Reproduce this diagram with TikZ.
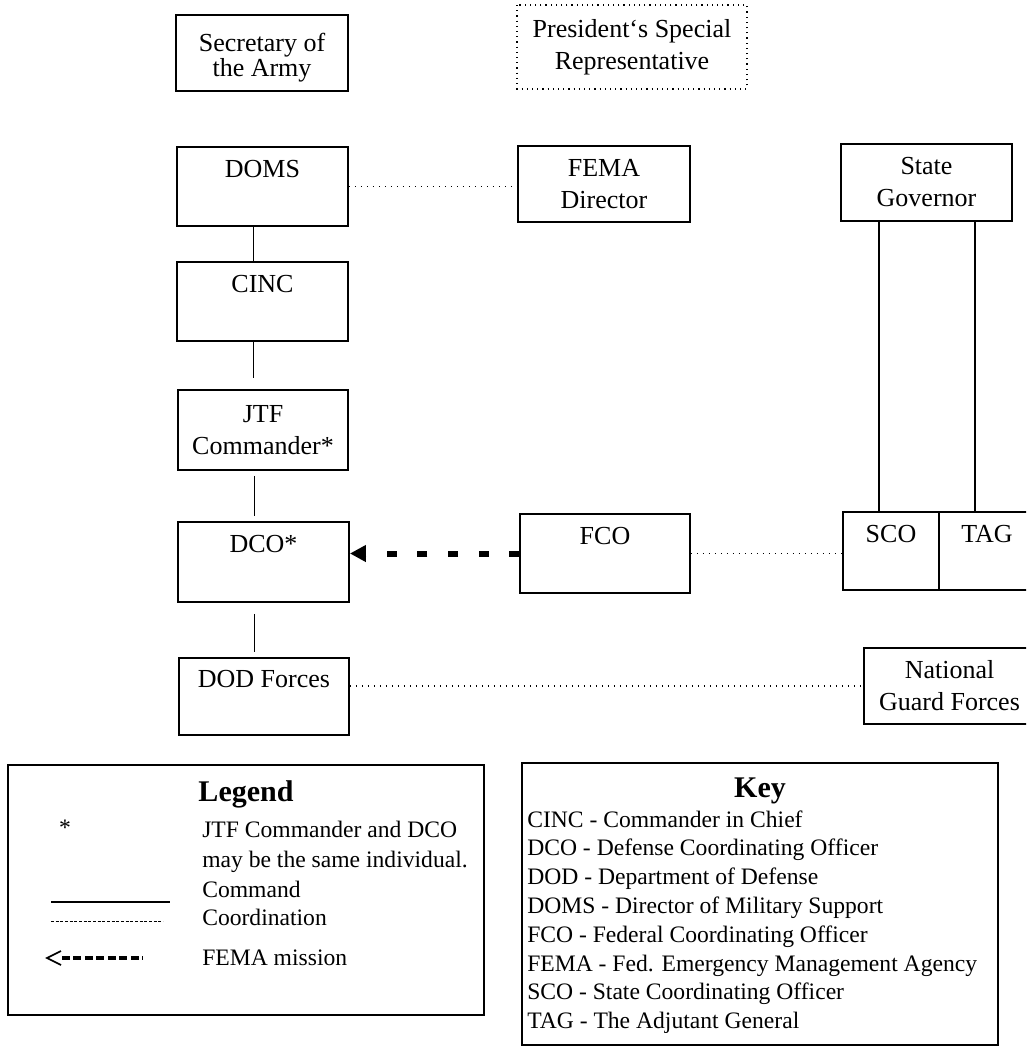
\documentclass[tikz,border=0pt]{standalone}
\usepackage{fontspec}
\setmainfont{Liberation Serif}
\usetikzlibrary{arrows.meta}
\newcommand{\boxfont}{\fontsize{19.5pt}{24pt}\selectfont}
\newcommand{\legfont}{\fontsize{17.7pt}{21.6pt}\selectfont}
\newcommand{\titfont}{\fontsize{22.5pt}{27pt}\selectfont\bfseries}
\begin{document}
\begin{tikzpicture}[x=0.75pt,y=-0.75pt,
  box/.style={draw, line width=1.4pt, minimum width=128.25pt, minimum height=58.5pt, inner sep=0pt, align=center, font=\boxfont},
  btext/.style={font=\boxfont, anchor=base, inner sep=0pt},
  cmd/.style={line width=1.1pt},
  coord/.style={line width=0.9pt, dash pattern=on 0.8pt off 3.7pt},
  ltext/.style={font=\legfont, anchor=base west, inner sep=0pt},
  ttext/.style={font=\titfont, anchor=base, inner sep=0pt},
  panel/.style={draw, line width=1.4pt, inner sep=0pt}
]
\useasboundingbox (0,0) rectangle (1026,1048);
\fill[white] (0,0) rectangle (1026,1048);
\clip (0,0) rectangle (1026,1048);

% boxes
\node[box, minimum width=129pt, minimum height=57pt] (sec) at (262,53) {};
\node[align=center, inner sep=0pt, font=\fontsize{19.5pt}{19pt}\selectfont] (sect) at ([yshift=-3.5pt]sec.center) {Secretary of\\the Army};
\node[box, draw=none, minimum width=171pt, minimum height=61.5pt] (pres) at (632,47) {President`s Special\\Representative};
\draw[line width=1pt, dash pattern=on 0.9pt off 3pt] (pres.north west) rectangle (pres.south east);
\node[box, minimum height=59.25pt] (doms) at (262.5,186.5) {};
\node[btext] (domst) at ([yshift=-23.25pt]doms.north) {DOMS};
\node[box, minimum width=129pt, minimum height=57pt] (fema) at (604,184) {FEMA\\Director};
\node[box, minimum height=57.75pt] (gov) at (926.5,182.5) {State\\Governor};
\node[box, minimum height=59.25pt] (cinc) at (262.5,301.5) {};
\node[btext] (cinct) at ([yshift=-23.25pt]cinc.north) {CINC};
\node[box, minimum width=127.5pt, minimum height=60pt] (jtf) at (263,430) {JTF\\Commander*};
\node[box, minimum height=60pt] (dco) at (263.5,562) {};
\node[btext] (dcot) at ([yshift=-23.25pt]dco.north) {DCO*};
\node[box, minimum width=127.5pt, minimum height=59.25pt] (fco) at (605,553.5) {};
\node[btext] (fcot) at ([yshift=-23.25pt]fco.north) {FCO};
\node[box, minimum width=72pt] (sco) at (891,551) {};
\node[btext] (scot) at ([yshift=-23.25pt]sco.north) {SCO};
\node[box, minimum width=72pt] (tag) at (987,551) {};
\node[btext] (tagt) at ([yshift=-23.25pt]tag.north) {TAG};
\node[box, minimum width=127.5pt, minimum height=57.75pt] (dod) at (264,696.5) {};
\node[btext] (dodt) at ([yshift=-22.5pt]dod.north) {DOD Forces};
\node[box, minimum height=57pt] (ng) at (949.5,686) {National\\Guard Forces};

% command lines
\draw[cmd] ([xshift=-6.75pt]doms.south) -- ([xshift=-6.75pt]doms.south |- cinc.north);
\draw[cmd, shorten >=8.25pt] ([xshift=-6.75pt]cinc.south) -- ([xshift=-6.75pt]cinc.south |- jtf.north);
\draw[cmd, shorten <=3.75pt, shorten >=3.75pt] ([xshift=-6.4pt]jtf.south) -- ([xshift=-6.4pt]jtf.south |- dco.north);
\draw[cmd, shorten <=8.25pt, shorten >=3.75pt] ([xshift=-6.75pt]dco.south) -- ([xshift=-6.75pt]dco.south |- dod.north);
\draw[cmd] ([xshift=-9pt]sco.north) -- ([xshift=-9pt]sco.north |- gov.south);
\draw[cmd] ([xshift=-9pt]tag.north) -- ([xshift=-9pt]tag.north |- gov.south);

% coordination lines
\draw[coord] (doms.east) -- (doms.east -| fema.west);
\draw[coord] (fco.east) -- (fco.east -| sco.west);
\draw[coord] (dod.east |- ng.west) -- (ng.west);

% FEMA mission
\draw[line width=4.5pt, dash pattern=on 7.5pt off 15.4pt, -{Triangle[length=12pt,width=12pt]}] (fco.west) -- (fco.west -| dco.east);

% legend
\node[panel, minimum width=357pt, minimum height=187.5pt] (legend) at (246,890) {};
\node[ttext] (legt) at (246,801) {Legend};
\node[font=\legfont, anchor=base, inner sep=0pt] (ast) at (65,835) {*};
\node[ltext] (l1) at (202,837) {JTF Commander and DCO};
\node[ltext] (l2) at (202,867) {may be the same individual.};
\node[ltext] (l3) at (202,897) {Command};
\node[ltext] (l4) at (202,925) {Coordination};
\node[ltext] (l5) at (202,965) {FEMA mission};
\coordinate (cmdA) at (51,902);
\coordinate (cmdB) at (170,902);
\draw[line width=0.8pt] (cmdA) -- (cmdB);
\coordinate (coA) at (51,921);
\coordinate (coB) at (163,921);
\draw[line width=0.7pt, dash pattern=on 2.2pt off 1.3pt] (coA) -- (coB);
\coordinate (fmA) at (62,958);
\coordinate (fmB) at (143,958);
\draw[line width=3pt, dash pattern=on 6pt off 2.6pt] (fmA) -- (fmB);
\draw[line width=1.3pt] ([shift={(-1,-7)}]fmA) -- ([shift={(-15,0)}]fmA) -- ([shift={(-1,7)}]fmA);

% key
\node[panel, minimum width=357pt, minimum height=211.5pt] (key) at (760,904) {};
\node[ttext] (keyt) at (760,797) {Key};
\foreach [count=\i] \t in {CINC - Commander in Chief, DCO - Defense Coordinating Officer, DOD - Department of Defense, DOMS - Director of Military Support, FCO - Federal Coordinating Officer, FEMA - Fed. Emergency Management Agency, SCO - State Coordinating Officer, TAG - The Adjutant General}
  \node[ltext] (key\i) at (527,{827+28.8*(\i-1)}) {\t};
\end{tikzpicture}
\end{document}
